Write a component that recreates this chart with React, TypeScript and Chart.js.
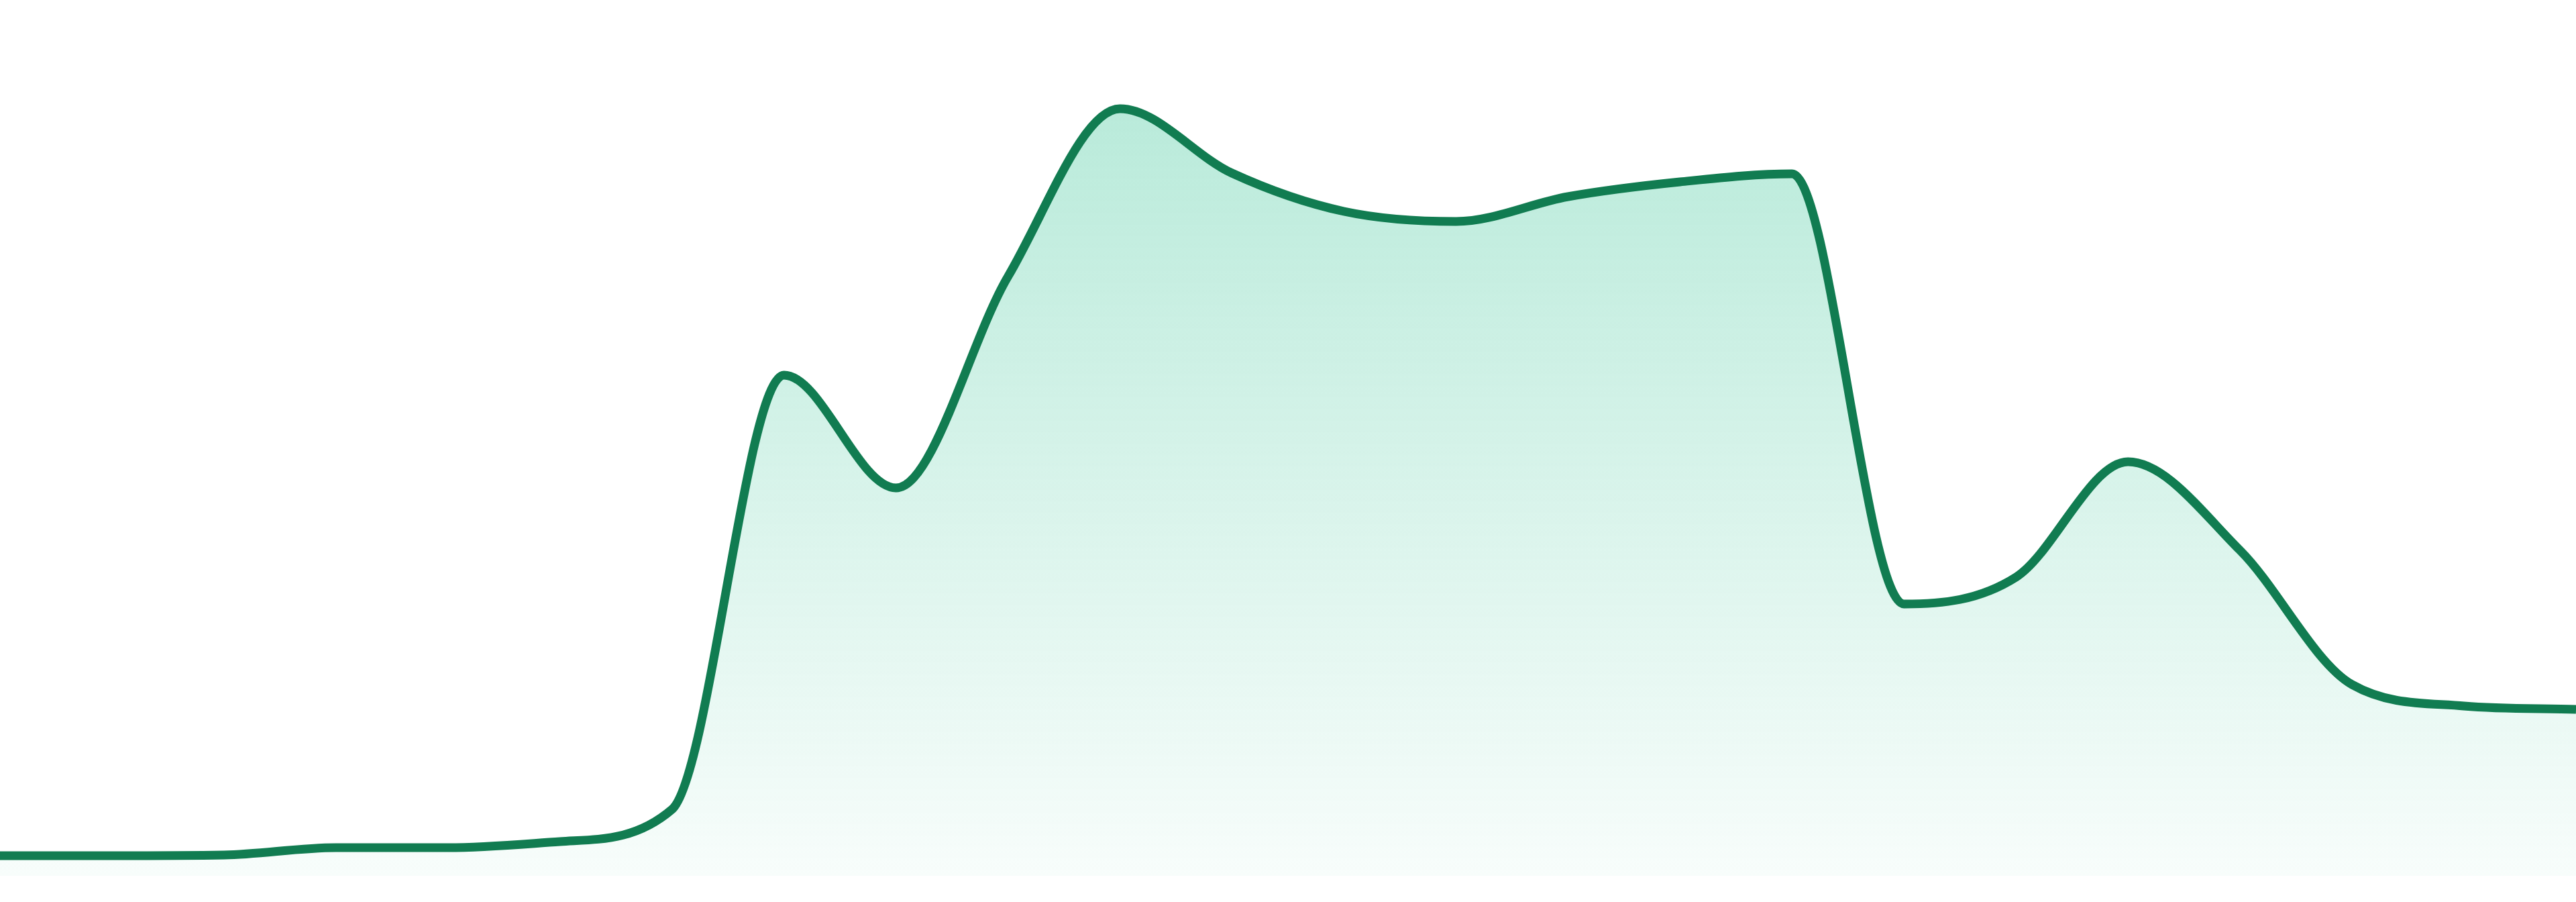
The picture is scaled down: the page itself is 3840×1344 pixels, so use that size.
import React, { useEffect, useRef } from 'react'
import { Chart, ChartConfiguration, registerables } from 'chart.js'

Chart.register(...registerables)

// 24 hourly samples, edge to edge, no visible axes
const hours = [
  '00:00', '01:00', '02:00', '03:00', '04:00', '05:00', '06:00', '07:00',
  '08:00', '09:00', '10:00', '11:00', '12:00', '13:00', '14:00', '15:00',
  '16:00', '17:00', '18:00', '19:00', '20:00', '21:00', '22:00', '23:00'
]

const activity = [
  30, 30, 31, 42, 42, 51, 99, 746,
  578, 893, 1143, 1047, 990, 975, 1012, 1034,
  1046, 405, 445, 617, 485, 285, 253, 248
]

const yMin = 0
const yMax = 1305

const lineColor = '#117c51'

export default function App() {
  const canvasRef = useRef<HTMLCanvasElement>(null)
  const chartRef = useRef<Chart | null>(null)

  useEffect(() => {
    if (!canvasRef.current) return
    const ctx = canvasRef.current.getContext('2d')
    if (!ctx) return

    if (chartRef.current) {
      chartRef.current.destroy()
    }

    const config: ChartConfiguration = {
      type: 'line',
      data: {
        labels: hours,
        datasets: [{
          label: 'activity',
          data: activity,
          borderColor: lineColor,
          borderWidth: 13,
          pointRadius: 0,
          pointHoverRadius: 0,
          cubicInterpolationMode: 'monotone',
          fill: 'start',
          // eslint-disable-next-line @typescript-eslint/no-explicit-any
          backgroundColor: (context: any) => {
            const { chart } = context
            const area = chart.chartArea
            if (!area) return 'rgba(16, 185, 129, 0.2)'
            const g = chart.ctx.createLinearGradient(0, area.top, 0, area.bottom)
            g.addColorStop(0, 'rgba(16, 185, 129, 0.33)')
            g.addColorStop(1, 'rgba(16, 185, 129, 0.03)')
            return g
          }
        }]
      },
      options: {
        animation: false,
        responsive: true,
        maintainAspectRatio: false,
        layout: {
          padding: { top: 0, left: 0, right: 0, bottom: 39 }
        },
        plugins: {
          legend: { display: false },
          tooltip: { enabled: false }
        },
        scales: {
          x: {
            display: false,
            offset: false
          },
          y: {
            display: false,
            min: yMin,
            max: yMax
          }
        }
      }
    }

    chartRef.current = new Chart(ctx, config)

    return () => {
      if (chartRef.current) {
        chartRef.current.destroy()
        chartRef.current = null
      }
    }
  }, [])

  return (
    <div style={{ position: 'fixed', left: 0, top: 0, width: '100vw', height: '100vh', background: '#ffffff' }}>
      <canvas ref={canvasRef} />
    </div>
  )
}
